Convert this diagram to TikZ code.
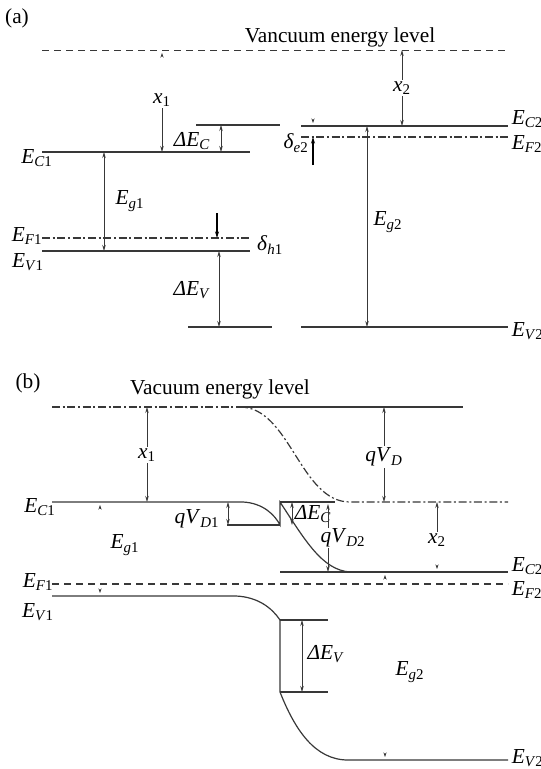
\documentclass[tikz,border=0pt]{standalone}
\usepackage{fontspec}
\setmainfont{Liberation Serif}
\usetikzlibrary{arrows.meta, positioning, calc}
\definecolor{cline}{HTML}{383838}
\newcommand{\ev}[2]{\textit{E}\textsubscript{\textit{#1}#2}}
\tikzset{
  every picture/.style={x=0.75pt, y=-0.75pt, line width=0.7pt},
  level/.style={draw=cline, line width=0.9pt},
  vac/.style={draw=cline, line width=0.7pt, dash pattern=on 5.5pt off 3.5pt},
  fermi/.style={draw=cline, line width=0.9pt, dash pattern=on 6pt off 2pt on 1.5pt off 2pt},
  lbl/.style={font=\fontsize{16}{18}\selectfont, inner sep=1pt},
  title/.style={font=\fontsize{16}{18}\selectfont, inner sep=1pt},
  dbl/.style={{Stealth[length=4.5pt, width=2.6pt]}-{Stealth[length=4.5pt, width=2.6pt]}, draw=cline, line width=0.6pt},
  arr/.style={-{Stealth[length=4.5pt, width=2.6pt]}, draw=cline, line width=0.6pt},
  stub/.style={-{Stealth[length=3.5pt, width=2.4pt]}, draw=cline, line width=0.6pt, shorten <=3pt},
}
\begin{document}
\begin{tikzpicture}
  \useasboundingbox (0,0) rectangle (541,769);
  % (a) separated semiconductors
  \node[title] (pa) at (17,18) {(a)};
  \node[title] (vacAt) at (340,37) {Vancuum energy level};
  \draw[vac] (42,50) coordinate (vacA) -- (508,50);
  \draw[level] (42,152) coordinate (ec1) -- (250,152);
  \draw[level] (196,125) coordinate (ecs) -- (280,125);
  \draw[level, line width=1.6pt] (301,126) coordinate (ec2) -- (508,126);
  \draw[fermi] (301,137) coordinate (ef2) -- (508,137);
  \draw[fermi, line width=1.2pt] (42,238) coordinate (ef1) -- (250,238);
  \draw[level] (42,251) coordinate (ev1) -- (250,251);
  \draw[level] (188,327) coordinate (evs) -- (272,327);
  \draw[level] (301,327) coordinate (ev2) -- (508,327);
  \foreach \n/\p/\t in {
      lEc1/{37,158}/{\ev{C}{1}}, lEg1/{130,201}/{\ev{g}{1}}, lEf1/{27,236}/{\ev{F}{1}},
      lEv1/{28,262}/{\ev{V}{1}}, lx1/{162,100}/{\textit{x}\textsubscript{1}},
      ldEc/{192,141}/{\textit{ΔE}\textsubscript{\textit{C}}}, ldh/{270,245}/{\textit{δ}\textsubscript{\textit{h}1}},
      ldEv/{192,290}/{\textit{ΔE}\textsubscript{\textit{V}}}, lde/{296,143}/{\textit{δ}\textsubscript{\textit{e}2}},
      lx2/{402,88}/{\textit{x}\textsubscript{2}}, lEg2/{388,222}/{\ev{g}{2}}}
    \node[lbl] (\n) at (\p) {\t};
  \node[lbl, anchor=west] (lEc2) at (510,119) {\ev{C}{2}};
  \node[lbl, anchor=west] (lEf2) at (510,144) {\ev{F}{2}};
  \node[lbl, anchor=west] (lEv2) at (510,331) {\ev{V}{2}};
  \coordinate (aEg1) at (104,0);
  \coordinate (adEc) at (221,0);
  \coordinate (adh) at (217,0);
  \coordinate (adEv) at (219,0);
  \coordinate (ade) at (313,0);
  \coordinate (aEg2) at (367,0);
  \draw[arr] (lx1) -- (lx1 |- ec1);
  \draw[stub] ($(lx1 |- vacA)+(0,9)$) -- ($(lx1 |- vacA)+(0,3)$);
  \draw[dbl] (adEc |- ecs) -- (adEc |- ec1);
  \draw[dbl] (aEg1 |- ec1) -- (aEg1 |- ev1);
  \draw[-{Stealth[length=5pt, width=3pt]}, line width=0.9pt] ($(adh |- ef1)+(0,-25)$) -- (adh |- ef1);
  \draw[dbl] (adEv |- ev1) -- (adEv |- evs);
  \draw[-{Stealth[length=5pt, width=3pt]}, line width=0.9pt] ($(ade |- ef2)+(0,28)$) -- (ade |- ef2);
  \draw[stub] ($(ade |- ec2)+(0,-9)$) -- ($(ade |- ec2)+(0,-3)$);
  \draw[arr] (lx2) -- (lx2 |- vacA);
  \draw[arr] (lx2) -- (lx2 |- ec2);
  \draw[dbl] (aEg2 |- ec2) -- (aEg2 |- ev2);
  % (b) heterojunction in equilibrium
  \node[title] (pb) at (28,383) {(b)};
  \node[title] (vacBt) at (220,389) {Vacuum energy level};
  \draw[fermi] (52,407) coordinate (vacB) -- (240,407);
  \draw[level] (240,407) -- (463,407);
  \draw[fermi] (240,407) .. controls (290,407) and (300,502) .. (350,502) -- (508,502) coordinate (vacC);
  \draw[level] (52,502) coordinate (ec1b) -- (243,502)
    .. controls (263,503) and (275,515) .. (280,525) -- (280,502)
    .. controls (305,540) and (322,570) .. (350,572);
  \draw[level] (280,502) -- (335,502);
  \draw[level] (227,525) coordinate (qd1) -- (280,525);
  \draw[level] (280,572) coordinate (ec2b) -- (508,572);
  \draw[vac, line width=0.9pt] (52,584) coordinate (efb) -- (508,584);
  \draw[level] (52,596) coordinate (ev1b) -- (236,596)
    .. controls (258,597) and (272,608) .. (280,620) -- (280,692)
    .. controls (295,730) and (315,760) .. (348,760) -- (508,760) coordinate (ev2b);
  \draw[level] (280,620) coordinate (dvt) -- (328,620);
  \draw[level] (280,692) coordinate (dvb) -- (328,692);
  \foreach \n/\p/\t in {
      mEc1/{40,507}/{\ev{C}{1}}, mx1/{147,455}/{\textit{x}\textsubscript{1}},
      mqd1/{197,519}/{\textit{qV}\textsubscript{\textit{D}1}}, mdEc/{313,514}/{\textit{ΔE}\textsubscript{\textit{C}}},
      mqd2/{343,538}/{\textit{qV}\textsubscript{\textit{D}2}}, mqd/{384,457}/{\textit{qV}\textsubscript{\textit{D}}},
      mx2/{437,540}/{\textit{x}\textsubscript{2}}, mEf1/{38,582}/{\ev{F}{1}},
      mEv1/{38,612}/{\ev{V}{1}}, mEg1/{125,545}/{\ev{g}{1}},
      mdEv/{326,654}/{\textit{ΔE}\textsubscript{\textit{V}}}, mEg2/{410,672}/{\ev{g}{2}}}
    \node[lbl] (\n) at (\p) {\t};
  \node[lbl, anchor=west] (mEc2) at (510,566) {\ev{C}{2}};
  \node[lbl, anchor=west] (mEf2) at (510,590) {\ev{F}{2}};
  \node[lbl, anchor=west] (mEv2) at (510,758) {\ev{V}{2}};
  \coordinate (bEg1) at (100,0);
  \coordinate (bqd1) at (228,0);
  \coordinate (bdEc) at (292,0);
  \coordinate (bqd2) at (328,0);
  \coordinate (bdEv) at (302,0);
  \coordinate (bEg2) at (385,0);
  \draw[arr] (mx1) -- (mx1 |- vacB);
  \draw[arr] (mx1) -- (mx1 |- ec1b);
  \draw[arr] (mqd) -- (mqd |- vacB);
  \draw[arr] (mqd) -- (mqd |- vacC);
  \draw[dbl] (bqd1 |- ec1b) -- (bqd1 |- qd1);
  \draw[dbl] (bdEc |- ec1b) -- (bdEc |- qd1);
  \draw[arr] ($(bqd2 |- ec1b)+(0,26)$) -- ($(bqd2 |- ec1b)+(0,2)$);
  \draw[arr] ($(bqd2 |- ec2b)+(0,-24)$) -- (bqd2 |- ec2b);
  \draw[arr] (mx2) -- (mx2 |- vacC);
  \draw[stub] ($(mx2 |- ec2b)+(0,-9)$) -- ($(mx2 |- ec2b)+(0,-3)$);
  \draw[dbl] (bdEv |- dvt) -- (bdEv |- dvb);
  \draw[stub] ($(bEg1 |- ec1b)+(0,10)$) -- ($(bEg1 |- ec1b)+(0,3)$);
  \draw[stub] ($(bEg1 |- ev1b)+(0,-10)$) -- ($(bEg1 |- ev1b)+(0,-3)$);
  \draw[stub] ($(bEg2 |- ec2b)+(0,10)$) -- ($(bEg2 |- ec2b)+(0,3)$);
  \draw[stub] ($(bEg2 |- ev2b)+(0,-10)$) -- ($(bEg2 |- ev2b)+(0,-3)$);
\end{tikzpicture}
\end{document}
